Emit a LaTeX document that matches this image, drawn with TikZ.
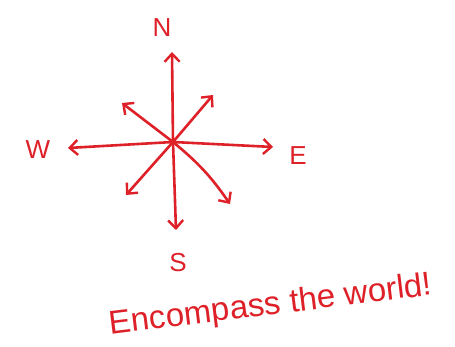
\documentclass[tikz,border=0pt]{standalone}
\usepackage{fontspec}
\setmainfont{Liberation Sans}
\usetikzlibrary{arrows.meta}
\definecolor{pen}{RGB}{222,32,40}
\begin{document}
\begin{tikzpicture}[x=1pt,y=-1pt,
  ray/.style={draw=pen,line width=2.6pt,line cap=round,-{Straight Barb[length=8pt,width=15pt,line width=2.4pt]}},
  dir/.style={text=pen,font=\fontsize{26}{28}\selectfont,inner sep=0pt}]
\useasboundingbox (0,0) rectangle (455,347);
\coordinate (c) at (173,142);
\coordinate (n) at (172,52);
\coordinate (w) at (68,148);
\coordinate (e) at (273,147);
\coordinate (s) at (176,230);
\coordinate (nw) at (122,103);
\coordinate (ne) at (213,95);
\coordinate (sw) at (126,195);
\coordinate (se) at (230,204);
\draw[ray] (c) -- (n);
\draw[ray] (c) -- (w);
\draw[ray] (c) -- (e);
\draw[ray] (c) -- (s);
\draw[ray] (c) -- (nw);
\draw[ray] (c) -- (ne);
\draw[ray] (c) -- (sw);
\draw[ray] (c) to[bend left=8] (se);
\node[dir] (N) at (162,28) {N};
\node[dir] (W) at (38,150) {W};
\node[dir] (E) at (298,156) {E};
\node[dir] (S) at (178,263) {S};
\node[text=pen,font=\fontsize{33}{35}\selectfont,rotate=7,inner sep=0pt] (t) at (271,306) {Encompass the world!};
\end{tikzpicture}
\end{document}
